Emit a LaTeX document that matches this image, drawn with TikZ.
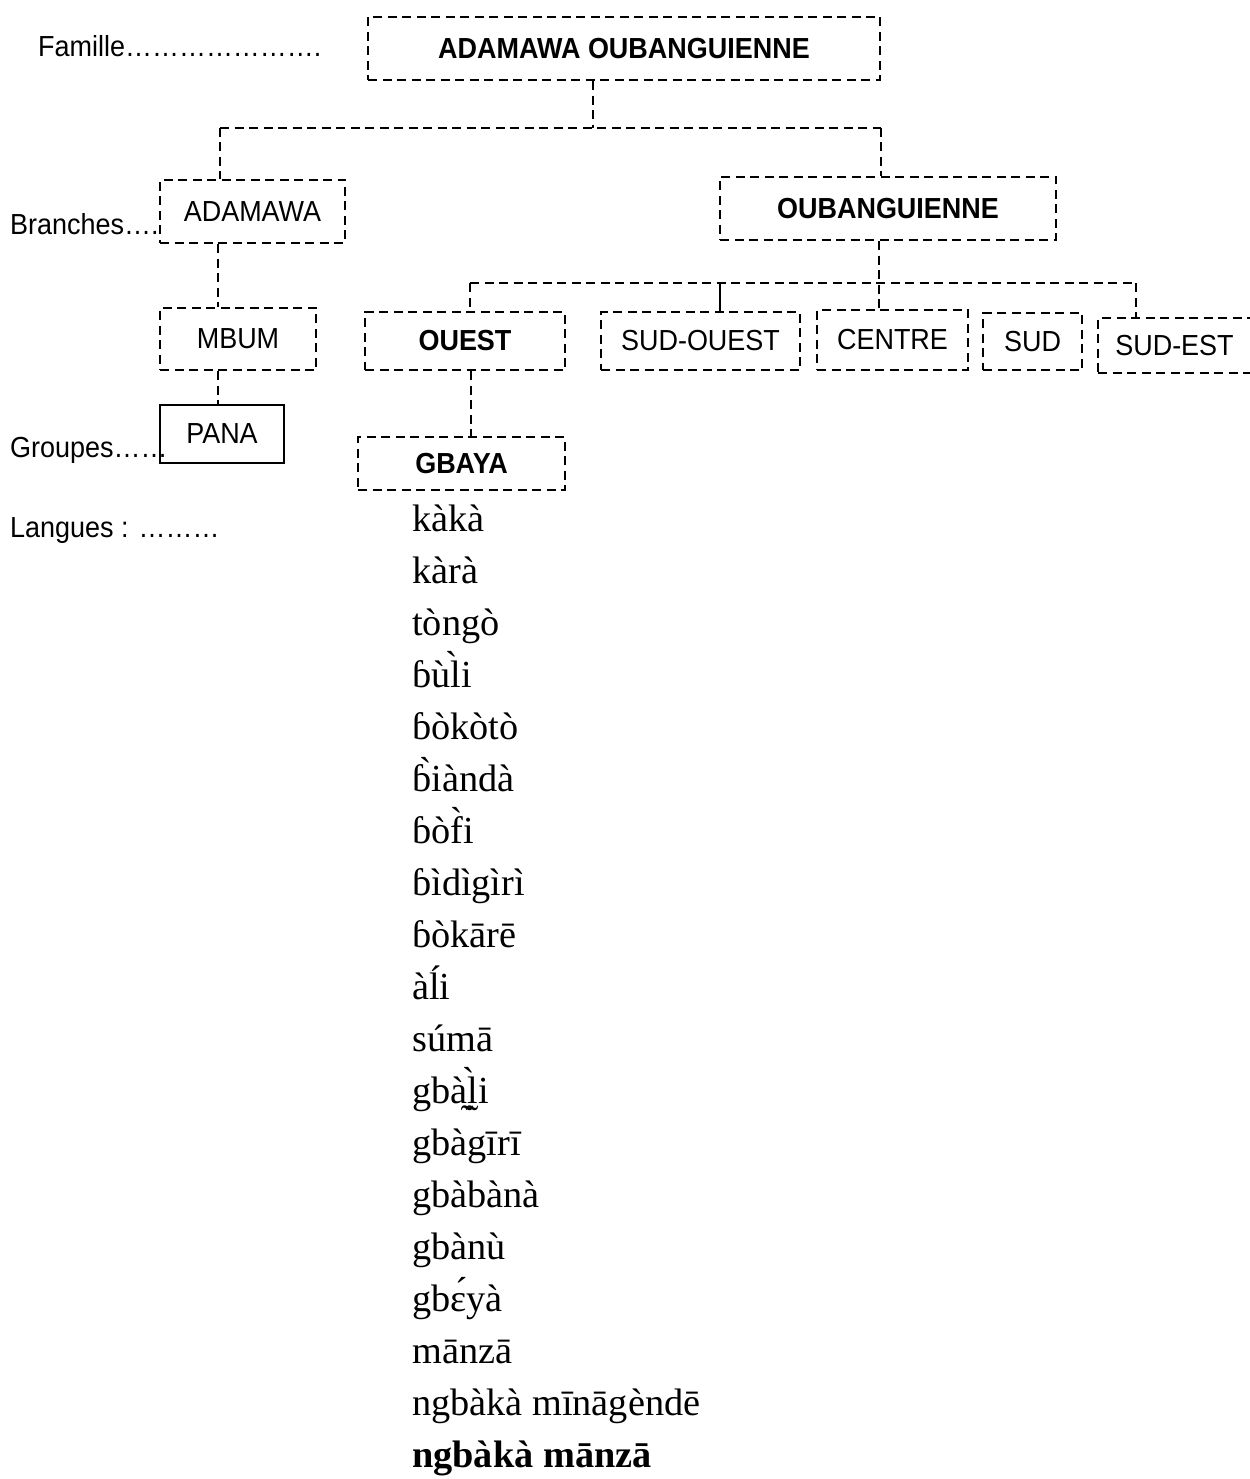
\documentclass[tikz,border=0pt]{standalone}
\usepackage{fontspec}
\setmainfont{Liberation Serif}
\setsansfont[FakeStretch=0.93]{Liberation Sans}
\newcommand\sansf{\fontsize{29}{34}\selectfont\sffamily}
\newcommand\seriff{\fontsize{38.3}{44}\selectfont\rmfamily}
\tikzset{
  dline/.style={line width=2.2pt, dash pattern=on 9pt off 5.5pt},
  dbox/.style={draw, dline, inner sep=0pt, font=\sansf},
  sbox/.style={draw, line width=1.4pt, inner sep=0pt, font=\sansf},
  side/.style={anchor=base west, inner sep=0pt, font=\sansf},
  lang/.style={anchor=base west, inner sep=0pt, font=\seriff},
  tick/.style={line width=1.2pt}
}
\begin{document}
\begin{tikzpicture}[x=1pt,y=-1pt]
\useasboundingbox (0,0) rectangle (1249,1479);
% boxes
\node[dbox, minimum width=512pt, minimum height=63pt] (top) at (624,48.5) {\bfseries ADAMAWA OUBANGUIENNE};
\node[dbox, minimum width=185pt, minimum height=63pt] (adam) at (252.5,211.5) {ADAMAWA};
\node[dbox, minimum width=336pt, minimum height=63pt] (oub) at (888,208.5) {\bfseries OUBANGUIENNE};
\node[dbox, minimum width=156pt, minimum height=62pt] (mbum) at (238,339) {MBUM};
\node[dbox, minimum width=200pt, minimum height=58pt] (ouest) at (465,341) {\bfseries OUEST};
\node[dbox, minimum width=199pt, minimum height=58pt] (sudouest) at (700.5,341) {SUD-OUEST};
\node[dbox, minimum width=151pt, minimum height=60pt] (centre) at (892.5,340) {CENTRE};
\node[dbox, minimum width=99pt, minimum height=57pt] (sud) at (1032.5,341.5) {SUD};
\node[dbox, minimum width=153pt, minimum height=55pt] (sudest) at (1174.5,345.5) {SUD-EST};
\node[sbox, minimum width=124pt, minimum height=58pt] (pana) at (222,434) {PANA};
\node[dbox, minimum width=207pt, minimum height=53pt] (gbaya) at (461.5,463.5) {\bfseries GBAYA};
% side labels
\node[side] (famille) at (38,57) {Famille………………….};
\node[side] (branches) at (10,235) {Branches….};
\node[side] (groupes) at (10,457) {Groupes……};
\node[side] (langues) at (10,537) {Langues : ………};
% connectors
\coordinate (j1) at (593,128);
\coordinate (b1l) at (220,128);
\coordinate (b1r) at (881,128);
\draw[dline] (j1 |- top.south) -- (j1);
\draw[dline] (b1l) -- (b1r);
\draw[dline] (b1l) -- (b1l |- adam.north);
\draw[dline] (b1r) -- (b1r |- oub.north);
\coordinate (b2l) at (470,283);
\coordinate (b2r) at (1136,283);
\coordinate (b2c) at (879,283);
\coordinate (b2t) at (720,283);
\draw[dline] (b2l) -- (b2r);
\draw[dline] (b2c |- oub.south) -- (b2c |- centre.north);
\draw[dline] (b2l) -- (b2l |- ouest.north);
\draw[dline] (b2r) -- (b2r |- sudest.north);
\draw[tick] (b2t) -- (b2t |- sudouest.north);
\coordinate (c3) at (218,0);
\coordinate (c4) at (471,0);
\draw[dline] (c3 |- adam.south) -- (c3 |- mbum.north);
\draw[dline] (c3 |- mbum.south) -- (c3 |- pana.north);
\draw[dline] (c4 |- ouest.south) -- (c4 |- gbaya.north);
% languages
\foreach \w [count=\i] in {kàkà, kàrà, tòngò, ɓùl̀i, ɓòkòtò, ɓ̀iàndà, ɓòf̀i, ɓìdìgìrì, ɓòkārē, àĺi, súmā, gbà̰l̰̀i, gbàgīrī, gbàbànà, gbànù, gbɛ́yà, mānzā, ngbàkà mīnāgèndē}
  \node[lang] (l\i) at (412, 531+52*\i-52) {\w};
\node[lang] (l19) at (412, 531+52*18) {\bfseries ngbàkà mānzā};
\end{tikzpicture}
\end{document}
